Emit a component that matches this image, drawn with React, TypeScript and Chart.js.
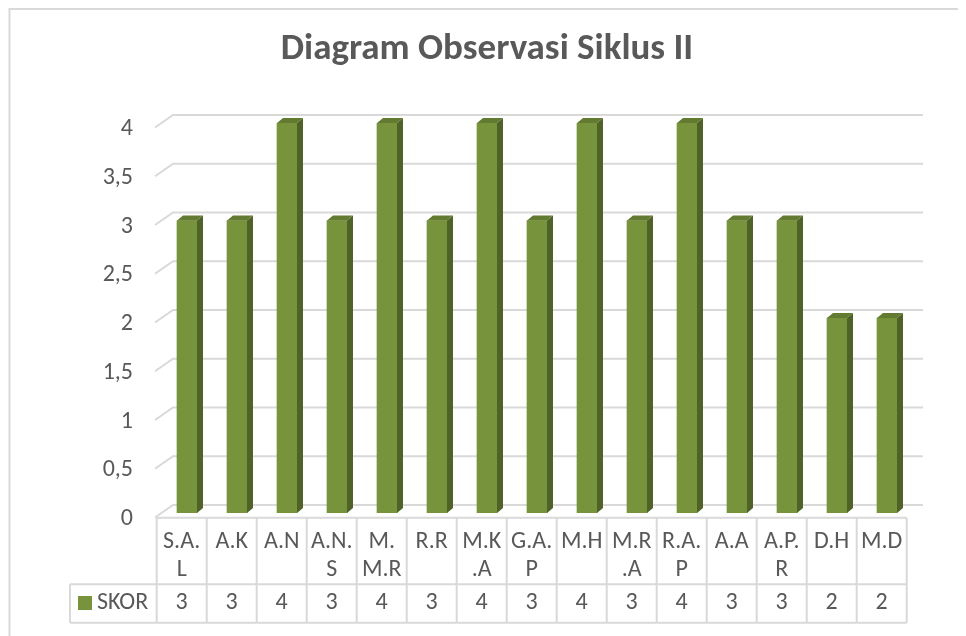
import React, { useEffect, useRef } from "react";
import { Chart, registerables } from "chart.js";

Chart.register(...registerables);

// ---------- data ----------
const TITLE = "Diagram Observasi Siklus II";
const SERIES_NAME = "SKOR";
const CATEGORIES = ["S.A.L", "A.K", "A.N", "A.N.S", "M.M.R", "R.R", "M.K.A", "G.A.P", "M.H", "M.R.A", "R.A.P", "A.A", "A.P.R", "D.H", "M.D"];
const CATEGORY_LINES = [["S.A.", "L"], ["A.K"], ["A.N"], ["A.N.", "S"], ["M.", "M.R"], ["R.R"], ["M.K", ".A"], ["G.A.", "P"], ["M.H"], ["M.R", ".A"], ["R.A.", "P"], ["A.A"], ["A.P.", "R"], ["D.H"], ["M.D"]];
const SKOR = [3, 3, 4, 3, 4, 3, 4, 3, 4, 3, 4, 3, 3, 2, 2];
const Y_MIN = 0;
const Y_MAX = 4;
const Y_STEP = 0.5;

// ---------- style ----------
const W = 958;
const H = 628;
const FONT = 'Carlito, "Open Sans", sans-serif';
const GRID = "#d9d9d9";
const TEXT = "#595959";
const FRONT = "#77933c";
const SIDE = "#4f6228";
const TOP = "#627b30";
const DX = 6;
const DY = 5;

const framePlugin = {
  id: "frame",
  beforeDraw(chart: any) {
    const ctx = chart.ctx;
    ctx.save();
    ctx.fillStyle = "#ffffff";
    ctx.fillRect(0, 0, chart.width, chart.height);
    ctx.strokeStyle = GRID;
    ctx.lineWidth = 2;
    ctx.beginPath();
    ctx.moveTo(1.5, chart.height);
    ctx.lineTo(1.5, 1);
    ctx.lineTo(chart.width, 1);
    ctx.stroke();
    ctx.restore();
  },
};

const gridPlugin = {
  id: "grid3d",
  beforeDatasetsDraw(chart: any) {
    const ctx = chart.ctx;
    const a = chart.chartArea;
    const y = chart.scales.y;
    ctx.save();
    ctx.strokeStyle = GRID;
    ctx.lineWidth = 2;
    ctx.beginPath();
    y.ticks.forEach((t: any) => {
      const py = y.getPixelForValue(t.value);
      ctx.moveTo(a.left - 7, py + 4.5);
      ctx.lineTo(a.left + 11, py - 8);
      ctx.lineTo(a.right + 11, py - 8);
    });
    ctx.stroke();
    ctx.restore();
  },
};

const barsPlugin = {
  id: "bars3d",
  afterDatasetsDraw(chart: any) {
    const ctx = chart.ctx;
    const meta = chart.getDatasetMeta(0);
    ctx.save();
    meta.data.forEach((bar: any) => {
      const { x, y, base, width } = bar.getProps(["x", "y", "base", "width"], true);
      const l = x - width / 2;
      const r = x + width / 2;
      ctx.fillStyle = SIDE;
      ctx.beginPath();
      ctx.moveTo(r, y);
      ctx.lineTo(r + DX, y - DY);
      ctx.lineTo(r + DX, base - DY);
      ctx.lineTo(r, base);
      ctx.closePath();
      ctx.fill();
      ctx.fillStyle = TOP;
      ctx.beginPath();
      ctx.moveTo(l, y);
      ctx.lineTo(l + DX, y - DY);
      ctx.lineTo(r + DX, y - DY);
      ctx.lineTo(r, y);
      ctx.closePath();
      ctx.fill();
    });
    ctx.restore();
  },
};

const tablePlugin = {
  id: "dataTable",
  afterDraw(chart: any) {
    const ctx = chart.ctx;
    const a = chart.chartArea;
    const xs = chart.scales.x;
    const step = xs.getPixelForValue(1) - xs.getPixelForValue(0);
    const half = step / 2;
    const centers = CATEGORIES.map((_, i) => xs.getPixelForValue(i) - 5.3);
    const colL = centers[0] - half;
    const colR = centers[centers.length - 1] + half;
    const top = a.bottom + 4.7;
    const mid = top + 66.6;
    const bot = mid + 38.4;
    const legL = colL - 86.7;

    ctx.save();
    ctx.strokeStyle = GRID;
    ctx.lineWidth = 2;
    ctx.beginPath();
    ctx.moveTo(colL, top);
    ctx.lineTo(colR, top);
    ctx.moveTo(legL, mid);
    ctx.lineTo(colR, mid);
    ctx.moveTo(legL, bot);
    ctx.lineTo(colR, bot);
    ctx.moveTo(legL, mid);
    ctx.lineTo(legL, bot);
    for (let i = 0; i <= centers.length; i++) {
      const ex = colL + i * step;
      ctx.moveTo(ex, top);
      ctx.lineTo(ex, bot);
    }
    ctx.stroke();

    ctx.fillStyle = TEXT;
    ctx.font = `24px ${FONT}`;
    ctx.textAlign = "center";
    ctx.textBaseline = "middle";
    CATEGORY_LINES.forEach((lines, i) => {
      lines.forEach((ln, j) => {
        ctx.fillText(ln, centers[i], top + 24 + j * 28.3);
      });
    });
    SKOR.forEach((v, i) => {
      ctx.fillText(String(v), centers[i], mid + 19);
    });

    ctx.fillStyle = FRONT;
    ctx.fillRect(legL + 8, mid + 11.7, 14, 14);
    ctx.fillStyle = TEXT;
    ctx.textAlign = "left";
    ctx.fillText(SERIES_NAME, legL + 27, mid + 19);
    ctx.restore();
  },
};

export default function App() {
  const ref = useRef<HTMLCanvasElement | null>(null);

  useEffect(() => {
    if (!ref.current) return;
    const chart = new Chart(ref.current, {
      type: "bar",
      data: {
        labels: CATEGORIES,
        datasets: [
          {
            label: SERIES_NAME,
            data: SKOR,
            backgroundColor: FRONT,
            borderWidth: 0,
            barThickness: 20,
          },
        ],
      },
      options: {
        responsive: false,
        animation: false,
        devicePixelRatio: 1,
        layout: { padding: { left: 54, right: 54, top: 0, bottom: 123 } },
        plugins: {
          legend: { display: false },
          tooltip: { enabled: false },
          title: {
            display: true,
            text: TITLE,
            color: TEXT,
            font: { family: FONT, size: 37, weight: "bold", lineHeight: 1.2 },
            padding: { top: 20, bottom: 50.6 },
          },
        },
        scales: {
          x: { display: false },
          y: {
            min: Y_MIN,
            max: Y_MAX,
            grid: { display: false, drawTicks: false },
            border: { display: false },
            ticks: {
              stepSize: Y_STEP,
              padding: 29,
              labelOffset: 6,
              color: TEXT,
              font: { family: FONT, size: 24 },
              callback: (v: any) => String(v).replace(".", ","),
            },
            afterFit: (s: any) => {
              s.width = 100;
            },
          },
        },
      },
      plugins: [framePlugin, gridPlugin, barsPlugin, tablePlugin],
    });
    return () => chart.destroy();
  }, []);

  return (
    <div style={{ width: W, height: H }}>
      <canvas ref={ref} width={W} height={H} style={{ display: "block" }} />
    </div>
  );
}
